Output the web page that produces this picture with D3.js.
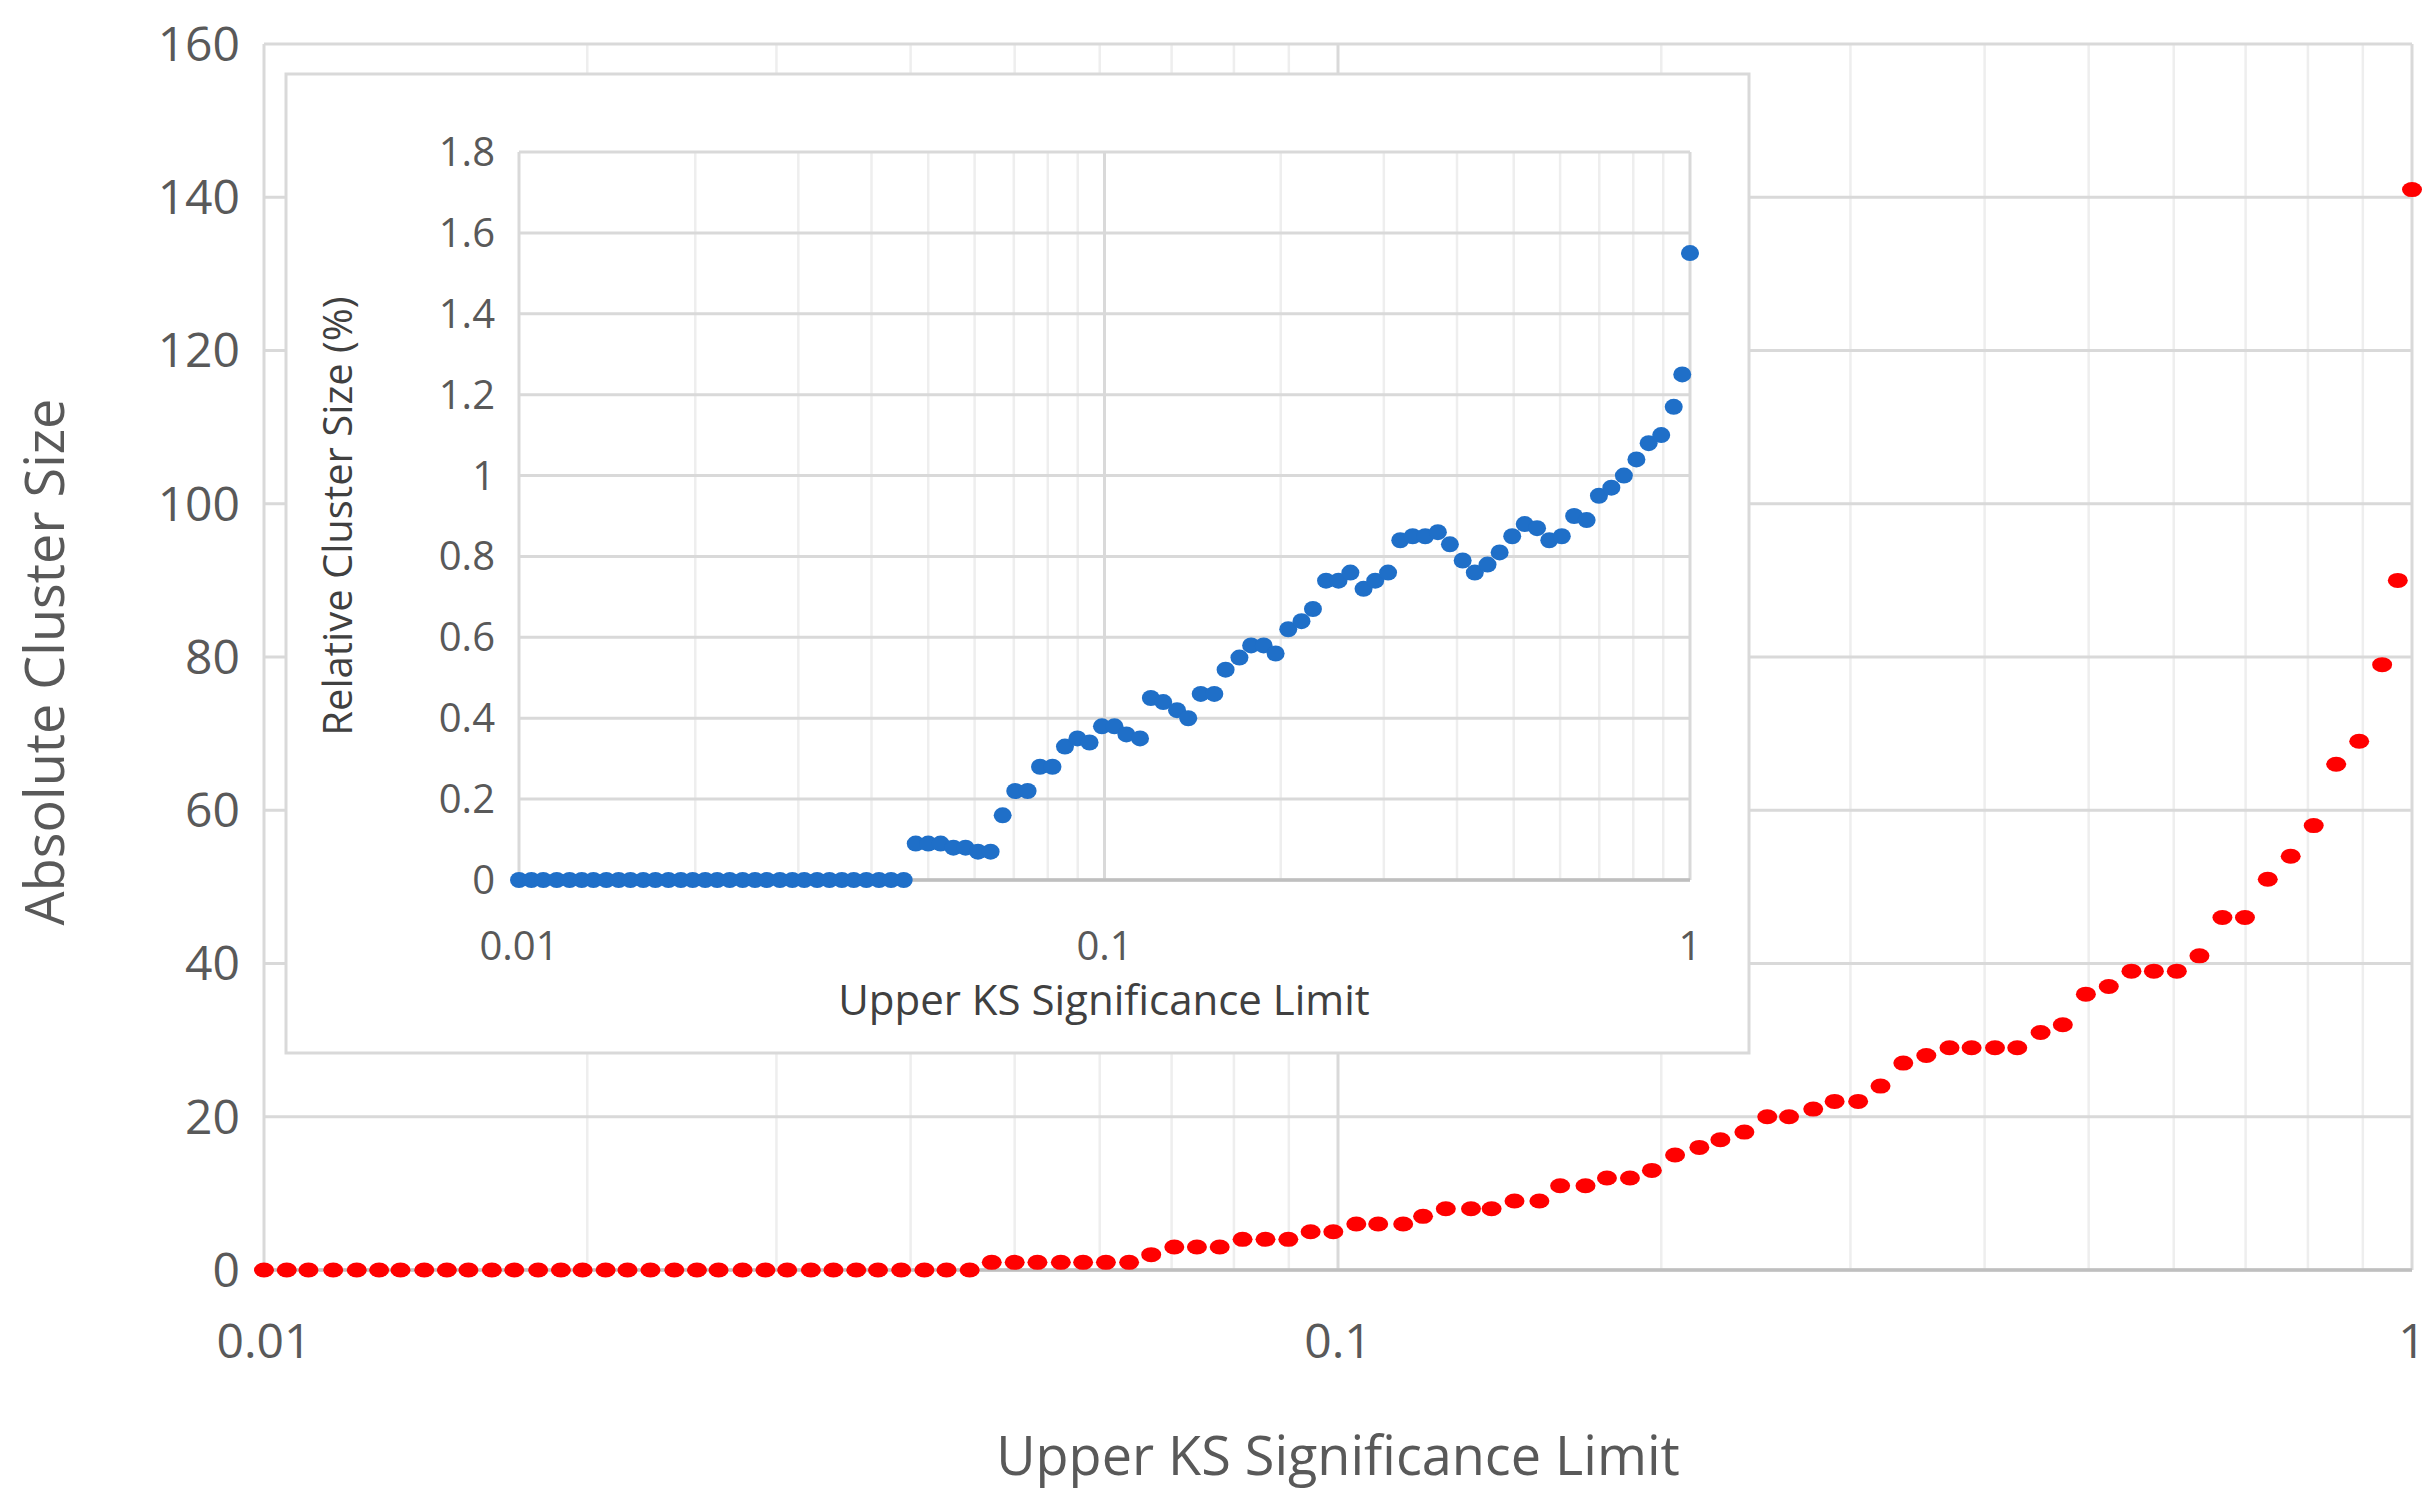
<!DOCTYPE html><html><head><meta charset="utf-8"><script src="https://cdn.jsdelivr.net/npm/d3@7"></script>
<style>body{margin:0;background:#fff}text{font-family:"Open Sans","Noto Sans",sans-serif}</style></head><body>
<svg id="c" width="2436" height="1511"></svg>
<script>
const xs=[0.0100,0.0105,0.0110,0.0116,0.0122,0.0128,0.0134,0.0141,0.0148,0.0155,0.0163,0.0171,0.0180,0.0189,0.0198,0.0208,0.0218,0.0229,0.0241,0.0253,0.0265,0.0279,0.0293,0.0307,0.0323,0.0339,0.0356,0.0373,0.0392,0.0412,0.0432,0.0454,0.0476,0.0500,0.0525,0.0552,0.0579,0.0608,0.0639,0.0670,0.0704,0.0739,0.0776,0.0815,0.0856,0.0899,0.0943,0.0990,0.104,0.109,0.115,0.120,0.126,0.133,0.139,0.146,0.154,0.161,0.170,0.178,0.187,0.196,0.206,0.217,0.227,0.239,0.251,0.263,0.277,0.290,0.305,0.320,0.336,0.353,0.371,0.389,0.409,0.429,0.451,0.473,0.497,0.522,0.548,0.575,0.604,0.634,0.666,0.699,0.734,0.771,0.810,0.850,0.893,0.938,0.970,1.0];
const absSize=[0,0,0,0,0,0,0,0,0,0,0,0,0,0,0,0,0,0,0,0,0,0,0,0,0,0,0,0,0,0,0,0,
1,1,1,1,1,1,1,2,3,3,3,4,4,4,5,5,6,6,6,7,8,8,8,9,9,11,11,12,12,13,15,16,17,18,20,20,21,22,22,24,27,28,29,29,29,29,31,32,36,37,39,39,39,41,46,46,51,54,58,66,69,79,90,141];
const relSize=[0,0,0,0,0,0,0,0,0,0,0,0,0,0,0,0,0,0,0,0,0,0,0,0,0,0,0,0,0,0,0,0,
0.09,0.09,0.09,0.08,0.08,0.07,0.07,0.16,0.22,0.22,0.28,0.28,0.33,0.35,0.34,0.38,0.38,0.36,0.35,0.45,0.44,0.42,0.40,0.46,0.46,0.52,0.55,0.58,0.58,0.56,0.62,0.64,0.67,0.74,0.74,0.76,0.72,0.74,0.76,0.84,0.85,0.85,0.86,0.83,0.79,0.76,0.78,0.81,0.85,0.88,0.87,0.84,0.85,0.90,0.89,0.95,0.97,1.00,1.04,1.08,1.10,1.17,1.25,1.55];
const mainYTicks=[0,20,40,60,80,100,120,140,160];
const insetYTicks=[0,0.2,0.4,0.6,0.8,1,1.2,1.4,1.6,1.8];
const xTicks=[0.01,0.1,1];
const svg=d3.select("#c");
function minors(){const m=[];for(const d of [0.01,0.1])for(let i=2;i<=9;i++)m.push(d*i);return m;}
function panel(L,R,T,B,ymax,yt,fs,xs_,ys_,color,rx,ry,fmt,xlOff){
  const x=d3.scaleLog().domain([0.01,1]).range([L,R]);
  const y=d3.scaleLinear().domain([0,ymax]).range([B,T]);
  const g=svg.append("g");
  g.selectAll(".mn").data(minors()).join("line").attr("x1",d=>x(d)).attr("x2",d=>x(d)).attr("y1",T).attr("y2",B).attr("stroke","#eeeeee").attr("stroke-width",2.5);
  g.selectAll(".mj").data(xTicks).join("line").attr("x1",d=>x(d)).attr("x2",d=>x(d)).attr("y1",T).attr("y2",B).attr("stroke","#d9d9d9").attr("stroke-width",3);
  g.selectAll(".hy").data(yt).join("line").attr("x1",L).attr("x2",R).attr("y1",d=>y(d)).attr("y2",d=>y(d)).attr("stroke","#d9d9d9").attr("stroke-width",3);
  g.append("line").attr("x1",L).attr("x2",R).attr("y1",B).attr("y2",B).attr("stroke","#bfbfbf").attr("stroke-width",3.5);
  g.selectAll(".yl").data(yt).join("text").attr("x",L-24).attr("y",d=>y(d)).attr("dy","0.35em").attr("text-anchor","end").attr("font-size",fs).attr("fill","#595959").text(fmt);
  g.selectAll(".xl").data(xTicks).join("text").attr("x",d=>x(d)).attr("y",B+xlOff).attr("text-anchor","middle").attr("font-size",fs).attr("fill","#595959").text(d=>d);
  g.selectAll(".pt").data(xs_.map((v,i)=>[v,ys_[i]])).join("ellipse").attr("cx",d=>x(d[0])).attr("cy",d=>y(d[1])).attr("rx",rx).attr("ry",ry).attr("fill",color);
  return {x,y};
}
panel(264,2412,44,1270,160,mainYTicks,48,xs,absSize,"#ff0000",10,7.5,d=>d,88);
svg.append("text").attr("x",1338).attr("y",1475).attr("text-anchor","middle").attr("font-size",54).attr("fill","#595959").text("Upper KS Significance Limit");
svg.append("text").attr("transform","translate(64,662) rotate(-90)").attr("text-anchor","middle").attr("font-size",54).attr("fill","#595959").text("Absolute Cluster Size");
svg.append("rect").attr("x",286).attr("y",74).attr("width",1463).attr("height",979).attr("fill","#fff").attr("stroke","#d9d9d9").attr("stroke-width",3);
panel(519,1690,152,880,1.8,insetYTicks,40,xs,relSize,"#1f6fc8",9,8,d=>d,80);
svg.append("text").attr("x",1104).attr("y",1015).attr("text-anchor","middle").attr("font-size",42).attr("fill","#404040").text("Upper KS Significance Limit");
svg.append("text").attr("transform","translate(352,516) rotate(-90)").attr("text-anchor","middle").attr("font-size",40).attr("fill","#404040").text("Relative Cluster Size (%)");
</script></body></html>
